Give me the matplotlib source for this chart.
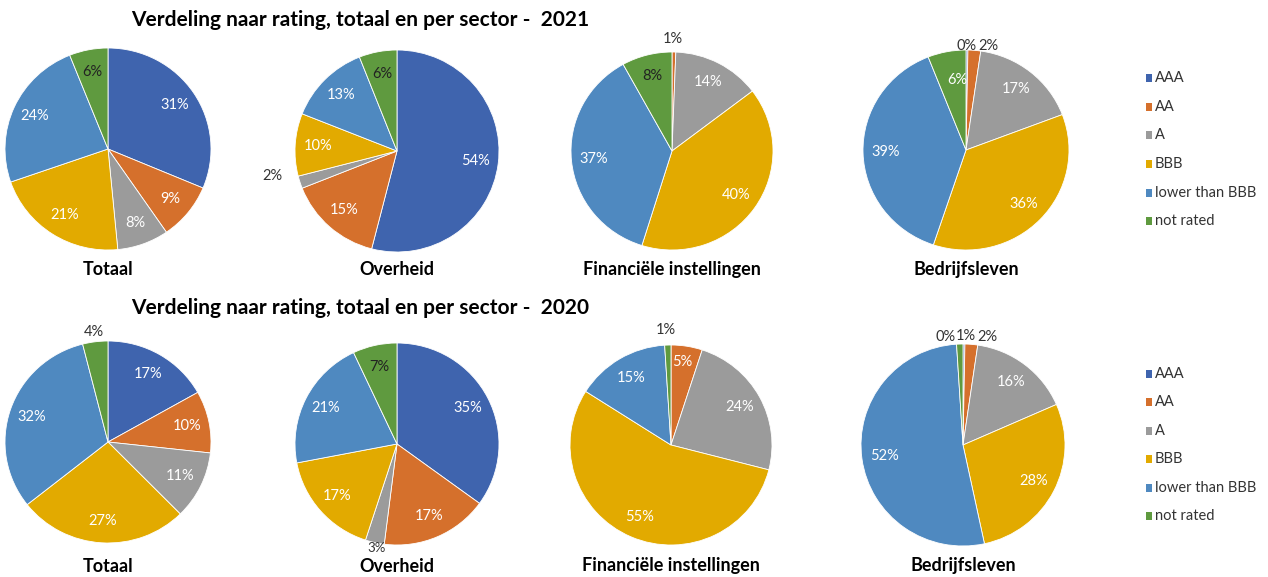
import matplotlib
matplotlib.use("Agg")
import matplotlib.pyplot as plt
import numpy as np

plt.rcParams['font.family'] = ['Lato', 'DejaVu Sans']

# ---------------- data ----------------
categories = ["AAA", "AA", "A", "BBB", "lower than BBB", "not rated"]
sectors = ["Totaal", "Overheid", "Financiële instellingen", "Bedrijfsleven"]
years = ["2021", "2020"]

totaal_2021 = [31, 9, 8, 21, 24, 6]
overheid_2021 = [54, 15, 2, 10, 13, 6]
financieel_2021 = [0, 0.6, 14, 40, 37, 8]
bedrijf_2021 = [0.3, 2, 17, 36, 39, 6]

totaal_2020 = [17, 10, 11, 27, 32, 4]
overheid_2020 = [35, 17, 3, 17, 21, 7]
financieel_2020 = [0, 5, 24, 55, 15, 1]
bedrijf_2020 = [0.3, 2, 16, 28, 52, 1]

values = {
    "2021": [totaal_2021, overheid_2021, financieel_2021, bedrijf_2021],
    "2020": [totaal_2020, overheid_2020, financieel_2020, bedrijf_2020],
}

# ---------------- style ----------------
colors = ["#3F64AE", "#D5702C", "#9B9B9B", "#E2AA00", "#4F89C0", "#5F9A3F"]
W, H = 1268, 577
fig = plt.figure(figsize=(W / 100, H / 100), dpi=100)
fig.patch.set_facecolor("white")

# pie centres / radii in pixels
centers = {
    "2021": [(108, 149, 103, 101), (397, 151, 102, 101), (672, 151, 101, 99), (966, 150, 103, 100)],
    "2020": [(108, 442, 103, 101), (397, 444, 102, 101), (671, 445, 101, 100), (963, 445, 102, 101)],
}
title_y = {"2021": 20, "2020": 308}
sector_label_y = {"2021": 269, "2020": 566}
legend_y = {"2021": [78, 107, 135, 164, 193, 221], "2020": [374, 402, 431, 459, 488, 516]}

# label overrides: (year, pie, slice) -> (x, y, colour) in pie units
overrides = {
    ("2021", 1, 2): (-1.22, -0.25, "#333333"),
    ("2021", 2, 1): (0.01, 1.13, "#333333"),
    ("2021", 3, 0): (0.01, 1.04, "#333333"),
    ("2021", 3, 1): (0.22, 1.04, "#333333"),
    ("2021", 3, 5): (-0.08, 0.70, "white"),
    ("2020", 0, 5): (-0.14, 1.09, "#333333"),
    ("2020", 1, 2): (-0.20, -1.03, "#333333"),
    ("2020", 2, 5): (-0.05, 1.15, "#333333"),
    ("2020", 2, 1): (0.11, 0.83, "white"),
    ("2020", 3, 0): (-0.17, 1.07, "#333333"),
    ("2020", 3, 5): (0.03, 1.08, "#333333"),
    ("2020", 3, 1): (0.24, 1.07, "#333333"),
}
small_outside = {("2020", 1, 2)}
dark_inside = {("2021", 0, 5), ("2021", 1, 5), ("2021", 2, 5), ("2020", 1, 5)}
label_r = 0.78


def px_axes(cx, cy, rx, ry):
    return fig.add_axes([(cx - rx) / W, 1 - (cy + ry) / H, 2 * rx / W, 2 * ry / H])


for year in years:
    for i, sector in enumerate(sectors):
        cx, cy, rx, ry = centers[year][i]
        ax = px_axes(cx, cy, rx, ry)
        vals = values[year][i]
        wedges, _ = ax.pie(vals, colors=colors, startangle=90, counterclock=False,
                           radius=1.0, wedgeprops=dict(edgecolor="white", linewidth=0.6))
        ax.set_aspect("auto")
        ax.set_xlim(-1, 1)
        ax.set_ylim(-1, 1)
        total = sum(vals)
        for j, (w, v) in enumerate(zip(wedges, vals)):
            if v == 0:
                continue
            pct = f"{round(v / total * 100):.0f}%"
            key = (year, i, j)
            if key in overrides:
                x, y, c = overrides[key]
            else:
                ang = np.deg2rad((w.theta1 + w.theta2) / 2)
                x, y = label_r * np.cos(ang), label_r * np.sin(ang)
                c = "#222222" if key in dark_inside else "white"
            fs = 9.5 if key in small_outside else 10.5
            ax.text(x, y, pct, ha="center", va="center", fontsize=fs, color=c, clip_on=False)
        fig.text(cx / W, 1 - sector_label_y[year] / H, sector, ha="center", va="center",
                 fontsize=13, fontweight="bold", color="black")

    fig.text(360 / W, 1 - title_y[year] / H,
             f"Verdeling naar rating, totaal en per sector -  {year}",
             ha="center", va="center", fontsize=15, fontweight="bold", color="black")

    # legend
    for k, cat in enumerate(categories):
        ly = legend_y[year][k]
        fig.patches.append(plt.Rectangle((1146 / W, 1 - (ly + 4) / H), 6 / W, 8 / H,
                                         transform=fig.transFigure, facecolor=colors[k],
                                         edgecolor="none"))
        fig.text(1155 / W, 1 - ly / H, cat, ha="left", va="center", fontsize=10.5, color="#333333")

fig.savefig("out.png", dpi=100, facecolor="white")
